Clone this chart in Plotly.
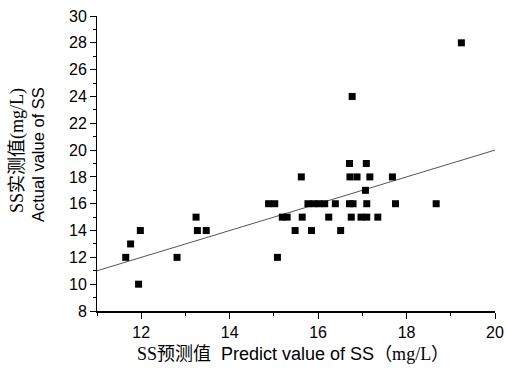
import plotly.graph_objects as go

# Predicted (x) and actual (y) SS values
pred = [11.65, 11.76, 11.98, 11.94, 12.81, 13.24, 13.27, 13.47, 14.88, 15.02,
        15.08, 15.19, 15.30, 15.48, 15.62, 15.64, 15.77, 15.90, 16.02, 16.15,
        15.85, 16.24, 16.39, 16.51, 16.71, 16.72, 16.71, 16.79, 16.75, 16.77,
        16.88, 16.97, 17.10, 17.07, 17.09, 17.10, 17.17, 17.35, 17.68, 17.75,
        18.67, 19.24]
actual = [12, 13, 14, 10, 12, 15, 14, 14, 16, 16,
          12, 15, 15, 14, 18, 15, 16, 16, 16, 16,
          14, 15, 16, 14, 19, 18, 16, 16, 15, 24,
          18, 15, 15, 17, 19, 16, 18, 15, 18, 16,
          16, 28]

# 1:1 reference line
line_x = [11, 20]
line_y = [11, 20]

SERIF = "'Liberation Serif', 'Noto Sans CJK SC'"
x_title = (f'<span style="font-family:{SERIF}">SS预测值</span>'
           '  Predict value of SS'
           f'<span style="font-family:{SERIF}">（mg/L）</span>')
y_title_cn = 'SS实测值(mg/L)'
y_title_en = 'Actual value of SS'

fig = go.Figure()
fig.add_trace(go.Scatter(x=line_x, y=line_y, mode='lines',
                         line=dict(color='#555555', width=1), showlegend=False,
                         hoverinfo='skip'))
fig.add_trace(go.Scatter(x=pred, y=actual, mode='markers',
                         marker=dict(symbol='square', size=7, color='black',
                                     line=dict(width=0)),
                         showlegend=False))

axis_font = dict(family='Liberation Sans, Arial', size=16, color='black')

L, R, T, B = 97, 12, 16, 58
W, H = 507, 369
PW, PH = W - L - R, H - T - B


def px_x(p):
    return (p - L) / PW


def px_y(p):
    return (H - B - p) / PH


fig.update_layout(
    width=W, height=H,
    margin=dict(l=L, r=R, t=T, b=B),
    paper_bgcolor='white', plot_bgcolor='white',
    font=axis_font,
    xaxis=dict(range=[11, 20], dtick=2, tick0=12, showgrid=False, zeroline=False,
               automargin=False,
               showline=True, linecolor='black', linewidth=2,
               ticks='outside', ticklen=6, tickwidth=1, tickcolor='black',
               tickfont=axis_font,
               minor=dict(ticks='outside', ticklen=3, dtick=1, tickcolor='black')),
    yaxis=dict(range=[8, 30], dtick=2, showgrid=False, zeroline=False,
               automargin=False,
               showline=True, linecolor='black', linewidth=1,
               ticks='outside', ticklen=6, tickwidth=1, tickcolor='black',
               tickfont=axis_font,
               minor=dict(ticks='outside', ticklen=3, dtick=1, tickcolor='black')),
    annotations=[
        dict(text=x_title, xref='paper', yref='paper', x=px_x(293), y=px_y(354),
             xanchor='center', yanchor='middle', showarrow=False,
             font=dict(family='Liberation Sans, Arial', size=18, color='black')),
        dict(text=y_title_cn, xref='paper', yref='paper', x=px_x(17), y=px_y(151),
             xanchor='center', yanchor='middle', showarrow=False, textangle=-90,
             font=dict(family=SERIF, size=18, color='black')),
        dict(text=y_title_en, xref='paper', yref='paper', x=px_x(38), y=px_y(155),
             xanchor='center', yanchor='middle', showarrow=False, textangle=-90,
             font=dict(family='Liberation Sans, Arial', size=16.5, color='black')),
    ],
)

fig.write_html('out.html')
